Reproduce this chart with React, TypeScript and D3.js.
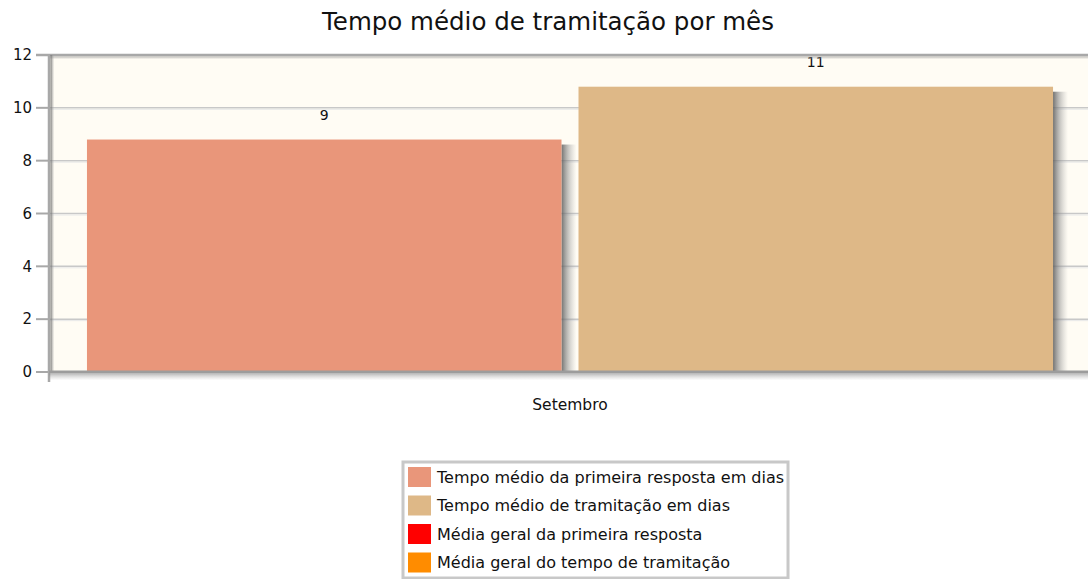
import React from 'react';
import * as d3 from 'd3';

const categories = ['Setembro'];
const seriesNames = [
  'Tempo médio da primeira resposta em dias',
  'Tempo médio de tramitação em dias',
];
const seriesValues = [8.8, 10.8];
const valueLabels = ['9', '11'];
const legendNames = [
  'Tempo médio da primeira resposta em dias',
  'Tempo médio de tramitação em dias',
  'Média geral da primeira resposta',
  'Média geral do tempo de tramitação',
];
const legendColors = ['#E9967A', '#DEB887', '#FF0000', '#FF8C00'];
const yTicks = [0, 2, 4, 6, 8, 10, 12];

const W = 1088;
const H = 579;
const FONT = '"DejaVu Sans", Verdana, sans-serif';

const App: React.FC = () => {
  const plot = { left: 49, right: 1091, top: 55, bottom: 372 };

  const y = d3.scaleLinear().domain([0, 12]).range([plot.bottom, plot.top]);
  const x0 = d3
    .scaleBand<string>()
    .domain(categories)
    .range([plot.left, plot.right])
    .paddingOuter(0.0393);
  const x1 = d3
    .scaleBand<string>()
    .domain(seriesNames)
    .range([0, x0.bandwidth()])
    .paddingInner(0.0346);

  const legend = { x: 403, y: 462, w: 385, h: 116, row: 28.5 };

  return (
    <div style={{ position: 'absolute', left: 0, top: 0 }}>
      <svg width={W} height={H} style={{ display: 'block', fontFamily: FONT }}>
        <defs>
          <linearGradient id="shadowX" x1="0" x2="1" y1="0" y2="0">
            <stop offset="0%" stopColor="#5a5a5a" stopOpacity={0.85} />
            <stop offset="50%" stopColor="#909090" stopOpacity={0.45} />
            <stop offset="100%" stopColor="#b0b0b0" stopOpacity={0} />
          </linearGradient>
          <linearGradient id="shadowY" x1="0" x2="0" y1="0" y2="1">
            <stop offset="0%" stopColor="#8a8a8a" stopOpacity={0.6} />
            <stop offset="100%" stopColor="#bbbbbb" stopOpacity={0} />
          </linearGradient>
        </defs>

        <rect x={0} y={0} width={W} height={H} fill="#ffffff" />

        <text x={548} y={30} textAnchor="middle" fontSize={24.5} fill="#111">
          Tempo médio de tramitação por mês
        </text>

        {/* plot background */}
        <rect
          x={plot.left}
          y={plot.top}
          width={plot.right - plot.left}
          height={plot.bottom - plot.top}
          fill="#fffcf4"
        />

        {/* gridlines */}
        {yTicks
          .filter(t => t > 0 && t < 12)
          .map(t => (
            <g key={`g${t}`}>
              <line
                x1={plot.left}
                x2={plot.right}
                y1={y(t)}
                y2={y(t)}
                stroke="#c8c8c8"
                strokeWidth={1.5}
              />
              <line
                x1={plot.left}
                x2={plot.right}
                y1={y(t) + 1.5}
                y2={y(t) + 1.5}
                stroke="#e8e8e8"
                strokeWidth={1}
              />
            </g>
          ))}

        {/* bars with shadows */}
        {categories.map(cat =>
          seriesNames.map((s, i) => {
            const bx = (x0(cat) ?? 0) + (x1(s) ?? 0);
            const bw = x1.bandwidth();
            const by = y(seriesValues[i]);
            return (
              <g key={s}>
                <rect
                  x={bx + bw}
                  y={by + 5}
                  width={15}
                  height={plot.bottom - by - 5}
                  fill="url(#shadowX)"
                />
                <rect
                  x={bx}
                  y={by}
                  width={bw}
                  height={plot.bottom - by}
                  fill={legendColors[i]}
                />
                <text
                  x={bx + bw / 2}
                  y={by - 20}
                  textAnchor="middle"
                  fontSize={14}
                  fill="#111"
                >
                  {valueLabels[i]}
                </text>
              </g>
            );
          })
        )}

        {/* top border */}
        <line x1={36} x2={W} y1={plot.top} y2={plot.top} stroke="#a8a8a8" strokeWidth={2.5} />
        <rect x={plot.left} y={plot.top + 1.5} width={plot.right - plot.left} height={3} fill="url(#shadowY)" />

        {/* y axis */}
        <rect x={plot.left + 1.5} y={plot.top} width={4} height={plot.bottom - plot.top} fill="url(#shadowX)" />
        <line x1={plot.left} x2={plot.left} y1={plot.top - 1} y2={plot.bottom + 10} stroke="#a8a8a8" strokeWidth={2.5} />
        {yTicks.map(t => (
          <g key={`t${t}`}>
            <line x1={36} x2={plot.left} y1={y(t)} y2={y(t)} stroke="#a8a8a8" strokeWidth={2} />
            <text x={32} y={y(t)} dy="0.35em" textAnchor="end" fontSize={15} fill="#111">
              {t}
            </text>
          </g>
        ))}

        {/* x axis */}
        <rect x={plot.left} y={plot.bottom + 1.5} width={plot.right - plot.left} height={7} fill="url(#shadowY)" />
        <line x1={plot.left} x2={plot.right} y1={plot.bottom} y2={plot.bottom} stroke="#9c9c9c" strokeWidth={3} />
        {categories.map(cat => (
          <text
            key={cat}
            x={(x0(cat) ?? 0) + x0.bandwidth() / 2}
            y={410}
            textAnchor="middle"
            fontSize={15.5}
            fill="#111"
          >
            {cat}
          </text>
        ))}

        {/* legend */}
        <rect
          x={legend.x}
          y={legend.y}
          width={legend.w}
          height={legend.h}
          fill="#ffffff"
          stroke="#c8c8c8"
          strokeWidth={3}
        />
        {legendNames.map((name, i) => {
          const ry = legend.y + 4 + i * legend.row;
          return (
            <g key={name}>
              <rect x={legend.x + 4} y={ry} width={25} height={22} fill="#ffffff" />
              <rect x={legend.x + 5} y={ry + 1} width={23} height={20} fill={legendColors[i]} />
              <text x={legend.x + 34} y={ry + 11} dy="0.35em" fontSize={16} fill="#111">
                {name}
              </text>
            </g>
          );
        })}
      </svg>
    </div>
  );
};

export default App;
